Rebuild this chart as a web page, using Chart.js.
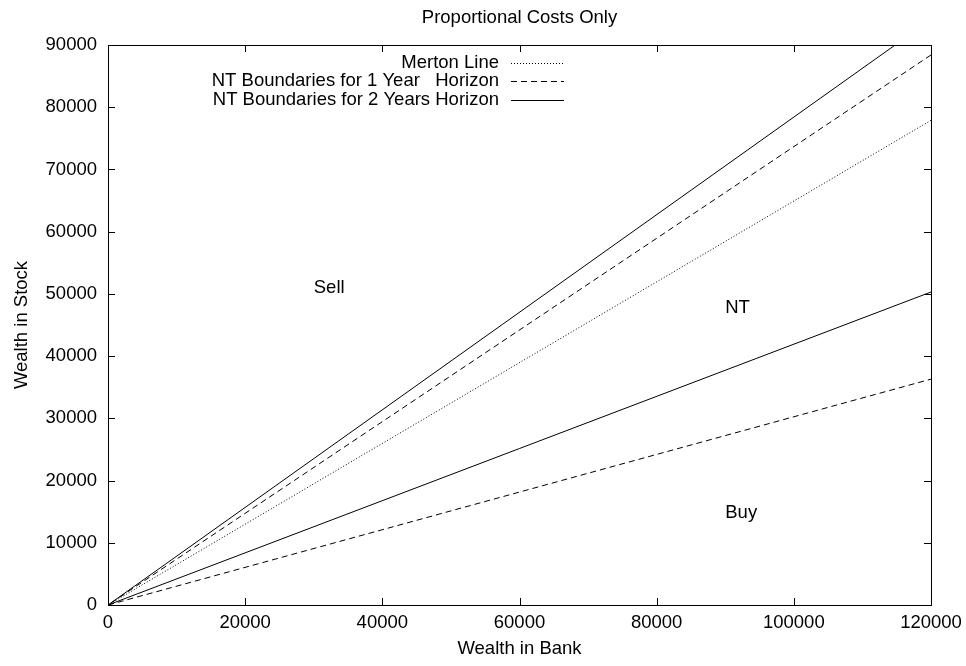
<!DOCTYPE html>
<html>
<head>
<meta charset="utf-8">
<script src="https://cdn.jsdelivr.net/npm/chart.js@4"></script>
<style>
  body { margin: 0; background: #fff; }
  canvas { display: block; }
</style>
</head>
<body>
<canvas id="ntChart" width="966" height="666"></canvas>
<script>
// data
const mertonBank = [0, 120000];
const mertonStock = [0, 77900];
const nt1Bank = [120000, 0, 120000];
const nt1Stock = [88400, 0, 36300];
const nt2Bank = [120000, 0, 120000];
const nt2Stock = [94100, 0, 50300];

const regionLabels = ['Sell', 'NT', 'Buy'];
const regionBank = [30000, 90000, 90000];
const regionStock = [51000, 47800, 14800];

const seriesNames = ['Merton Line', 'NT Boundaries for 1 Year   Horizon', 'NT Boundaries for 2 Years Horizon'];

const FONT = '"Liberation Sans", Arial, Helvetica, sans-serif';
const FS = 18.5;

function pts(xs, ys) {
  return xs.map((x, i) => ({ x: x, y: ys[i] }));
}

// gnuplot-ish frame, inner ticks, title, key and region labels
const gnuplotBits = {
  id: 'gnuplotBits',
  afterDatasetsDraw(chart) {
    const ctx = chart.ctx;
    const a = chart.chartArea;
    const xs = chart.scales.x, ys = chart.scales.y;
    ctx.save();
    ctx.strokeStyle = '#000';
    ctx.lineWidth = 1;
    ctx.setLineDash([]);
    ctx.strokeRect(Math.round(a.left) + 0.5, Math.round(a.top) + 0.5,
      Math.round(a.right - a.left), Math.round(a.bottom - a.top));

    const tl = 7;
    ctx.beginPath();
    xs.ticks.forEach(t => {
      const px = Math.round(xs.getPixelForValue(t.value)) + 0.5;
      ctx.moveTo(px, a.bottom); ctx.lineTo(px, a.bottom - tl);
      ctx.moveTo(px, a.top); ctx.lineTo(px, a.top + tl);
    });
    ys.ticks.forEach(t => {
      const py = Math.round(ys.getPixelForValue(t.value)) + 0.5;
      ctx.moveTo(a.left, py); ctx.lineTo(a.left + tl, py);
      ctx.moveTo(a.right, py); ctx.lineTo(a.right - tl, py);
    });
    ctx.stroke();

    ctx.fillStyle = '#000';
    ctx.font = FS + 'px ' + FONT;
    ctx.textBaseline = 'middle';

    // title
    ctx.textAlign = 'center';
    ctx.fillText('Proportional Costs Only', (a.left + a.right) / 2, 18);

    // key
    ctx.textAlign = 'right';
    chart.data.datasets.forEach((ds, i) => {
      const y = 63 + i * 18.3;
      ctx.fillText(ds.label, 499, y);
      ctx.beginPath();
      ctx.setLineDash(ds.borderDash || []);
      ctx.moveTo(511, Math.round(y) + 0.5);
      ctx.lineTo(564, Math.round(y) + 0.5);
      ctx.stroke();
    });
    ctx.setLineDash([]);

    // region labels
    ctx.textAlign = 'left';
    regionLabels.forEach((txt, i) => {
      ctx.fillText(txt, xs.getPixelForValue(regionBank[i]), ys.getPixelForValue(regionStock[i]));
    });
    ctx.restore();
  }
};

new Chart(document.getElementById('ntChart'), {
  type: 'scatter',
  data: {
    datasets: [
      {
        label: seriesNames[0],
        data: pts(mertonBank, mertonStock),
        showLine: true,
        borderColor: '#000',
        borderWidth: 1,
        borderDash: [1, 2],
        pointRadius: 0
      },
      {
        label: seriesNames[1],
        data: pts(nt1Bank, nt1Stock),
        showLine: true,
        borderColor: '#000',
        borderWidth: 1,
        borderDash: [6, 4],
        pointRadius: 0
      },
      {
        label: seriesNames[2],
        data: pts(nt2Bank, nt2Stock),
        showLine: true,
        borderColor: '#000',
        borderWidth: 1,
        pointRadius: 0
      }
    ]
  },
  options: {
    responsive: false,
    animation: false,
    events: [],
    layout: { padding: { top: 45, right: 35, left: 0, bottom: 0 } },
    plugins: {
      legend: { display: false },
      title: { display: false },
      tooltip: { enabled: false }
    },
    scales: {
      x: {
        type: 'linear',
        min: 0,
        max: 120000,
        afterFit: s => { s.height = 61; s.paddingLeft = 0; s.paddingRight = 0; },
        grid: { display: false, drawTicks: false },
        border: { display: false },
        ticks: {
          stepSize: 20000,
          padding: 7,
          color: '#000',
          font: { family: FONT, size: FS },
          maxRotation: 0,
          callback: v => String(v)
        },
        title: {
          display: true,
          text: 'Wealth in Bank',
          color: '#000',
          font: { family: FONT, size: FS },
          padding: { top: 0, bottom: 6 }
        }
      },
      y: {
        type: 'linear',
        min: 0,
        max: 90000,
        afterFit: s => { s.width = 108; s.paddingTop = 0; s.paddingBottom = 0; },
        grid: { display: false, drawTicks: false },
        border: { display: false },
        ticks: {
          stepSize: 10000,
          padding: 11,
          color: '#000',
          font: { family: FONT, size: FS },
          callback: v => String(v)
        },
        title: {
          display: true,
          text: 'Wealth in Stock',
          color: '#000',
          font: { family: FONT, size: FS },
          padding: { top: 11, bottom: 0 }
        }
      }
    }
  },
  plugins: [gnuplotBits]
});
</script>
</body>
</html>
